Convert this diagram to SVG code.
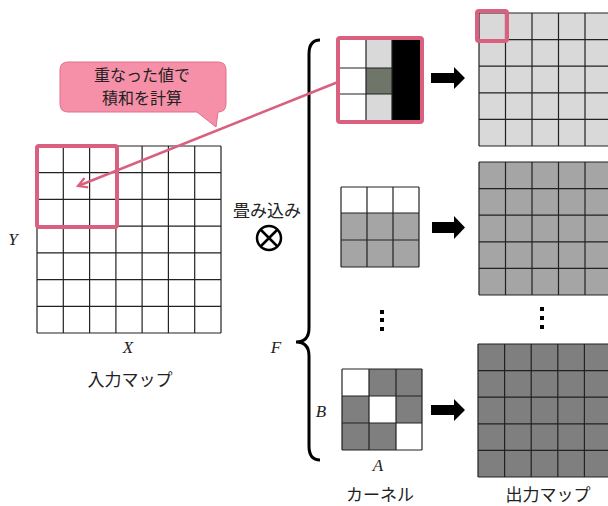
<svg xmlns="http://www.w3.org/2000/svg" width="608" height="506" viewBox="0 0 608 506">
<style>
.g{stroke:#222;stroke-width:1.2;fill:none}
.hl{fill:none;stroke:#D9607F;stroke-width:4}
.jp{font-family:"Noto Sans CJK JP","Noto Sans",sans-serif;font-size:17px;fill:#222}
.cj{font-family:"Noto Sans CJK JP","Noto Sans",sans-serif;font-size:16px;fill:#222}
.v{font-family:"Liberation Serif",serif;font-style:italic;font-size:17px;fill:#222}
.dot{fill:#000}
</style>
<defs>
<marker id="ah" viewBox="0 0 12 12" refX="10" refY="6" markerWidth="12" markerHeight="12" markerUnits="userSpaceOnUse" orient="auto">
<path d="M1,1 L10,6 L1,11" fill="none" stroke="#D9607F" stroke-width="2.2"/>
</marker>
</defs>
<rect width="608" height="506" fill="#fff"/>

<g id="input-map">
<rect x="37" y="146" width="184" height="187" fill="#fff"/>
<path class="g" d="M37,146V333M63.3,146V333M89.6,146V333M115.9,146V333M142.1,146V333M168.4,146V333M194.7,146V333M221,146V333M37,146H221M37,172.7H221M37,199.4H221M37,226.1H221M37,252.9H221M37,279.6H221M37,306.3H221M37,333H221"/>
<rect class="hl" x="37" y="146" width="80" height="81" rx="2"/>
<text class="v" x="13" y="245" text-anchor="middle">Y</text>
<text class="v" x="128" y="353" text-anchor="middle">X</text>
<text class="jp" x="130" y="386" text-anchor="middle">入力マップ</text>
</g>

<g id="callout">
<path d="M68,62 H218 Q226,62 226,70 V104 Q226,112 218,112 L216,127 L197,112 H68 Q60,112 60,104 V70 Q60,62 68,62 Z" fill="#F590A8" stroke="#E0708F" stroke-width="1"/>
<text class="cj" x="142" y="81" text-anchor="middle">重なった値で</text>
<text class="cj" x="142" y="104" text-anchor="middle">積和を計算</text>
</g>

<g id="conv-op">
<text class="jp" x="267" y="217" text-anchor="middle">畳み込み</text>
<circle cx="269" cy="238" r="12" fill="none" stroke="#000" stroke-width="2.5"/>
<path d="M260.5,229.5 L277.5,246.5 M277.5,229.5 L260.5,246.5" stroke="#000" stroke-width="2.5"/>
</g>

<g id="brace">
<path d="M320,40 Q309,40 309,54 V328 Q309,342 296,342 Q309,342 309,356 V446 Q309,460 320,460" fill="none" stroke="#000" stroke-width="3"/>
<text class="v" x="276" y="353" text-anchor="middle">F</text>
<text class="v" x="321" y="417" text-anchor="middle">B</text>
</g>

<g id="kernel-1">
<rect x="340" y="40" width="26" height="80" fill="#fff"/>
<rect x="366" y="40" width="26" height="28" fill="#D9D9D9"/>
<rect x="366" y="68" width="26" height="26" fill="#6F7569"/>
<rect x="366" y="94" width="26" height="26" fill="#D9D9D9"/>
<rect x="392" y="40" width="28" height="80" fill="#000"/>
<path class="g" d="M366,40V120M392,40V120M340,68H392M340,94H392"/>
<rect class="hl" x="338" y="38" width="84" height="84" rx="2"/>
</g>

<g id="kernel-2">
<rect x="341" y="187" width="78" height="26" fill="#fff"/>
<rect x="341" y="213" width="78" height="54" fill="#A5A5A5"/>
<path class="g" d="M341,187V267M367,187V267M393,187V267M419,187V267M341,187H419M341,213H419M341,240H419M341,267H419"/>
</g>

<g id="kernel-dots">
<rect class="dot" x="380" y="310" width="4" height="4"/>
<rect class="dot" x="380" y="318" width="4" height="4"/>
<rect class="dot" x="380" y="327" width="4" height="4"/>
</g>

<g id="kernel-3">
<rect x="342" y="369" width="80" height="81" fill="#7F7F7F"/>
<rect x="342" y="369" width="27" height="27" fill="#fff"/>
<rect x="369" y="396" width="27" height="27" fill="#fff"/>
<rect x="396" y="423" width="26" height="27" fill="#fff"/>
<path class="g" d="M342,369V450M369,369V450M396,369V450M422,369V450M342,369H422M342,396H422M342,423H422M342,450H422"/>
<text class="v" x="378" y="471" text-anchor="middle">A</text>
<text class="jp" x="380" y="501" text-anchor="middle">カーネル</text>
</g>

<g id="output-1">
<rect x="479" y="13" width="134" height="133" fill="#D9D9D9"/>
<path class="g" d="M479,13V146M505.5,13V146M532,13V146M558.5,13V146M585,13V146M479,13H613M479,39.6H613M479,66.2H613M479,92.8H613M479,119.4H613M479,146H613"/>
<rect class="hl" x="477" y="11" width="30" height="30" rx="2"/>
</g>

<g id="output-2">
<rect x="479" y="162" width="134" height="133" fill="#A5A5A5"/>
<path class="g" d="M479,162V295M505.5,162V295M532,162V295M558.5,162V295M585,162V295M479,162H613M479,188.6H613M479,215.2H613M479,241.8H613M479,268.4H613M479,295H613"/>
</g>

<g id="output-dots">
<rect class="dot" x="540" y="307" width="4" height="4"/>
<rect class="dot" x="540" y="316" width="4" height="4"/>
<rect class="dot" x="540" y="325" width="4" height="4"/>
</g>

<g id="output-3">
<rect x="478" y="344" width="135" height="133" fill="#7F7F7F"/>
<path class="g" d="M478,344V477M504.6,344V477M531.2,344V477M557.8,344V477M584.4,344V477M478,344H613M478,370.6H613M478,397.2H613M478,423.8H613M478,450.4H613M478,477H613"/>
<text class="jp" x="548" y="501" text-anchor="middle">出力マップ</text>
</g>

<g id="connectors">
<line x1="338" y1="82" x2="78" y2="186" stroke="#D9607F" stroke-width="2.5" marker-end="url(#ah)"/>
<path d="M431,73 H454 V67 L465,78 L454,89 V83 H431 Z" fill="#000"/>
<path d="M432,222 H454 V216 L465,227.5 L454,239 V233 H432 Z" fill="#000"/>
<path d="M431,405 H454 V399 L465,410 L454,421 V415 H431 Z" fill="#000"/>
</g>
</svg>
